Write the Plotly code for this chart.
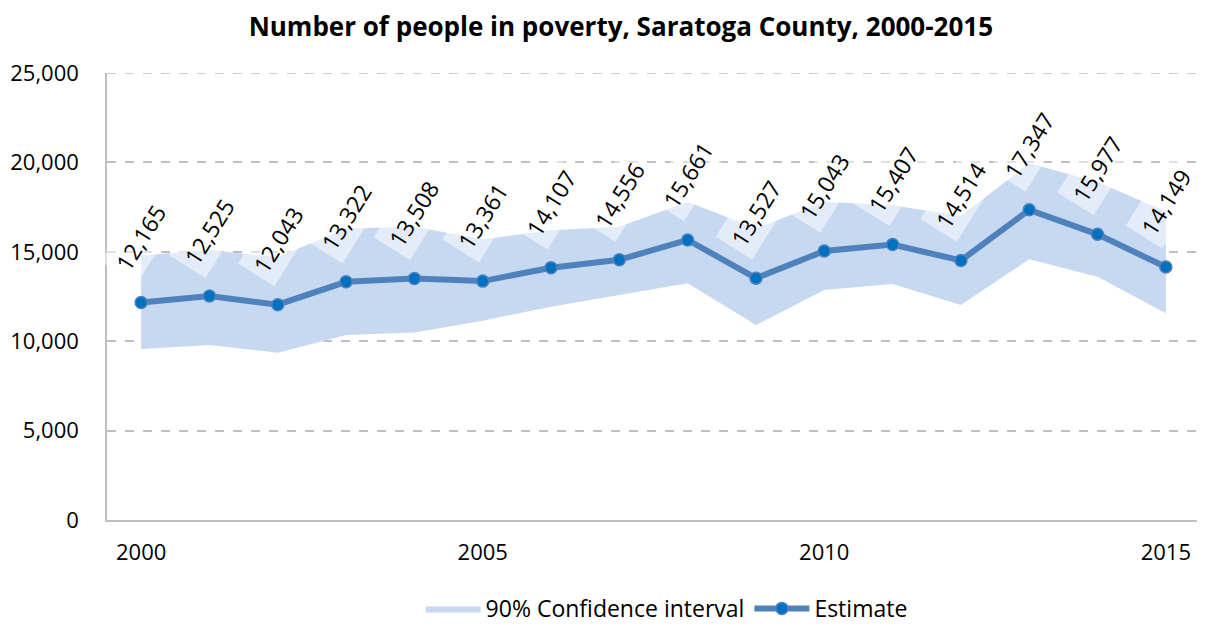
import plotly.graph_objects as go

years = list(range(2000, 2016))
estimate = [12165, 12525, 12043, 13322, 13508, 13361, 14107, 14556, 15661, 13527, 15043, 15407, 14514, 17347, 15977, 14149]
ci_upper = [14800, 15100, 14700, 16300, 16400, 15700, 16200, 16400, 17800, 16300, 17800, 17600, 17000, 19950, 18900, 17250]
ci_lower = [9560, 9790, 9360, 10350, 10480, 11150, 11930, 12580, 13240, 10900, 12860, 13200, 12020, 14580, 13600, 11560]
tick_years = [2000, 2005, 2010, 2015]
y_ticks = [0, 5000, 10000, 15000, 20000, 25000]

FONT = "Open Sans"
fig = go.Figure()
fig.add_trace(go.Scatter(
    x=years + years[::-1], y=ci_upper + ci_lower[::-1],
    fill="toself", fillcolor="#c6d9f0", line=dict(width=0, color="#c6d9f0"),
    mode="lines", name="90% Confidence interval", hoverinfo="skip"))
fig.add_trace(go.Scatter(
    x=years, y=estimate, mode="lines+markers", name="Estimate",
    line=dict(color="#4f81bd", width=6),
    marker=dict(size=12, color="#0070c0", line=dict(color="#4f81bd", width=1.5))))

for x, y in zip(years, estimate):
    fig.add_annotation(x=x, y=y, text=f"{y:,}", showarrow=False, yshift=65,
                       textangle=-58, bgcolor="rgba(255,255,255,0.5)",
                       font=dict(family=FONT, size=23, color="#000000"),
                       borderpad=5)

fig.add_shape(type="line", xref="paper", x0=0, x1=1, yref="y", y0=y_ticks[-1], y1=y_ticks[-1],
              line=dict(color="#bfbfbf", width=1.5, dash="dash"), layer="below")

fig.update_layout(
    width=1197, height=619,
    margin=dict(l=99, r=5, t=65, b=107),
    paper_bgcolor="white", plot_bgcolor="white",
    title=dict(text="<b>Number of people in poverty, Saratoga County, 2000-2015</b>",
               x=0.512, xanchor="center", y=0.969, yanchor="middle",
               font=dict(family=FONT, size=26, color="#000000")),
    font=dict(family=FONT, size=22, color="#000000"),
    xaxis=dict(range=[1999.5, 2015.5], tickvals=tick_years, ticktext=[str(t) for t in tick_years],
               showgrid=False, showline=True, linecolor="#bfbfbf", linewidth=1.5,
               ticks="", zeroline=False, tickfont=dict(size=22), automargin=False,
               ticklabelstandoff=12),
    yaxis=dict(range=[0, 25000], tickvals=y_ticks,
               tickformat=",", showgrid=True, gridcolor="#bfbfbf", griddash="dash", gridwidth=1.5,
               showline=True, linecolor="#bfbfbf", linewidth=1.5, zeroline=False,
               ticks="", tickfont=dict(size=22), ticklabelstandoff=22, automargin=False),
    legend=dict(orientation="h", x=0.512, xanchor="center", yref="container", y=0.03, yanchor="middle",
                font=dict(family=FONT, size=23), itemwidth=55, entrywidth=0),
    showlegend=True,
)
fig.write_html("out.html")
